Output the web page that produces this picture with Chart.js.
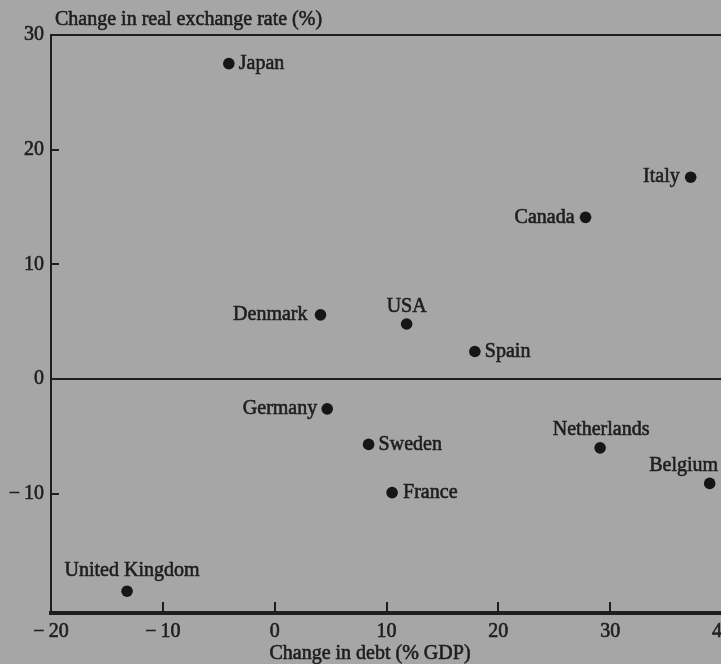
<!DOCTYPE html>
<html>
<head>
<meta charset="utf-8">
<script src="https://cdn.jsdelivr.net/npm/chart.js@4.4.1/dist/chart.umd.min.js"></script>
<style>
  html, body { margin: 0; padding: 0; background: #a6a6a6; overflow: hidden; }
  #wrap { width: 745px; height: 664px; position: relative; }
</style>
</head>
<body>
<div id="wrap"><canvas id="chart"></canvas></div>
<script>
// data
const countries = ['Japan', 'Italy', 'Canada', 'Denmark', 'USA', 'Spain', 'Germany', 'Sweden', 'France', 'Netherlands', 'Belgium', 'United Kingdom'];
const debtChange = [-4.1, 37.2, 27.8, 4.1, 11.8, 17.9, 4.7, 8.4, 10.5, 29.1, 38.9, -13.2];
const rateChange = [27.5, 17.6, 14.1, 5.6, 4.8, 2.4, -2.6, -5.7, -9.9, -6.0, -9.1, -18.5];
const xTicks = [-20, -10, 0, 10, 20, 30, 40];
const yTicks = [-10, 0, 10, 20, 30];

const ink = '#1e1e1e';
const serif = "'Liberation Serif', 'Times New Roman', serif";

// where each name sits next to its dot: [align, dx, dy]
const labelPlace = {
  'Japan': ['left', 10, 0],
  'Italy': ['right', -11, 0],
  'Canada': ['right', -11, 0],
  'Denmark': ['right', -13, 0],
  'USA': ['center', 0, -17],
  'Spain': ['left', 10, 0],
  'Germany': ['right', -10, 0],
  'Sweden': ['left', 10, 0],
  'France': ['left', 11, 0],
  'Netherlands': ['center', 1, -18],
  'Belgium': ['center', -26, -18],
  'United Kingdom': ['center', 5, -20]
};

function fmt(v) {
  return v < 0 ? '\u2212\u2009' + Math.abs(v) : String(v);
}

function inkText(ctx, s, x, y) {
  ctx.fillText(s, x, y);
  ctx.strokeText(s, x, y);
}

const extras = {
  id: 'extras',
  afterDraw(chart) {
    const { ctx, chartArea: a, scales: { x, y } } = chart;
    ctx.save();
    ctx.strokeStyle = ink;
    ctx.lineWidth = 2;
    // ticks pointing inwards
    xTicks.forEach(v => {
      if (v <= -20 || v >= 40) return;
      const px = Math.round(x.getPixelForValue(v));
      ctx.beginPath(); ctx.moveTo(px, a.bottom); ctx.lineTo(px, a.bottom - 11); ctx.stroke();
    });
    yTicks.forEach(v => {
      if (v === 0 || v === 30) return;
      const py = Math.round(y.getPixelForValue(v));
      ctx.beginPath(); ctx.moveTo(a.left, py); ctx.lineTo(a.left + 8, py); ctx.stroke();
    });

    ctx.fillStyle = ink;
    ctx.lineWidth = 0.6;
    ctx.font = '20px ' + serif;
    ctx.textBaseline = 'middle';

    // axis titles
    ctx.textAlign = 'left';
    inkText(ctx, 'Change in real exchange rate (%)', 55, 20);
    ctx.textAlign = 'center';
    inkText(ctx, 'Change in debt (% GDP)', 370, 654);

    // country names
    const meta = chart.getDatasetMeta(0);
    meta.data.forEach((pt, i) => {
      const p = labelPlace[countries[i]];
      ctx.textAlign = p[0];
      inkText(ctx, countries[i], pt.x + p[1], pt.y + p[2]);
    });
    ctx.restore();
  }
};

const tickFont = { family: serif, size: 20 };

const ctx = document.getElementById('chart').getContext('2d');
new Chart(ctx, {
  type: 'scatter',
  data: {
    datasets: [{
      data: countries.map((c, i) => ({ x: debtChange[i], y: rateChange[i] })),
      backgroundColor: '#161616',
      borderWidth: 0,
      pointRadius: 5.8
    }]
  },
  options: {
    responsive: true,
    maintainAspectRatio: false,
    animation: false,
    layout: { padding: { left: 0, top: 35, right: 23, bottom: 0 } },
    plugins: { legend: { display: false }, tooltip: { enabled: false } },
    scales: {
      x: {
        type: 'linear',
        position: 'bottom',
        min: -20,
        max: 40,
        afterBuildTicks: s => { s.ticks = xTicks.map(v => ({ value: v })); },
        afterFit: s => { s.height = 51; s.paddingLeft = 0; s.paddingRight = 0; },
        grid: { drawOnChartArea: false, drawTicks: false, color: 'rgba(0,0,0,0)' },
        border: { display: true, width: 4, color: ink },
        ticks: {
          padding: 7, color: ink, font: tickFont, maxRotation: 0, autoSkip: false,
          textStrokeColor: ink, textStrokeWidth: 0.6, callback: v => fmt(v)
        }
      },
      y: {
        type: 'linear',
        min: -20.4,
        max: 30,
        afterBuildTicks: s => { s.ticks = yTicks.map(v => ({ value: v })); },
        afterFit: s => { s.width = 51; s.paddingTop = 0; s.paddingBottom = 0; },
        grid: {
          drawTicks: false,
          lineWidth: 2,
          color: c => (c.tick && (c.tick.value === 0 || c.tick.value === 30)) ? ink : 'rgba(0,0,0,0)'
        },
        border: { display: true, width: 2, color: ink },
        ticks: {
          padding: 7, color: ink, font: tickFont, autoSkip: false,
          textStrokeColor: ink, textStrokeWidth: 0.6, callback: v => fmt(v)
        }
      }
    }
  },
  plugins: [extras]
});
</script>
</body>
</html>
